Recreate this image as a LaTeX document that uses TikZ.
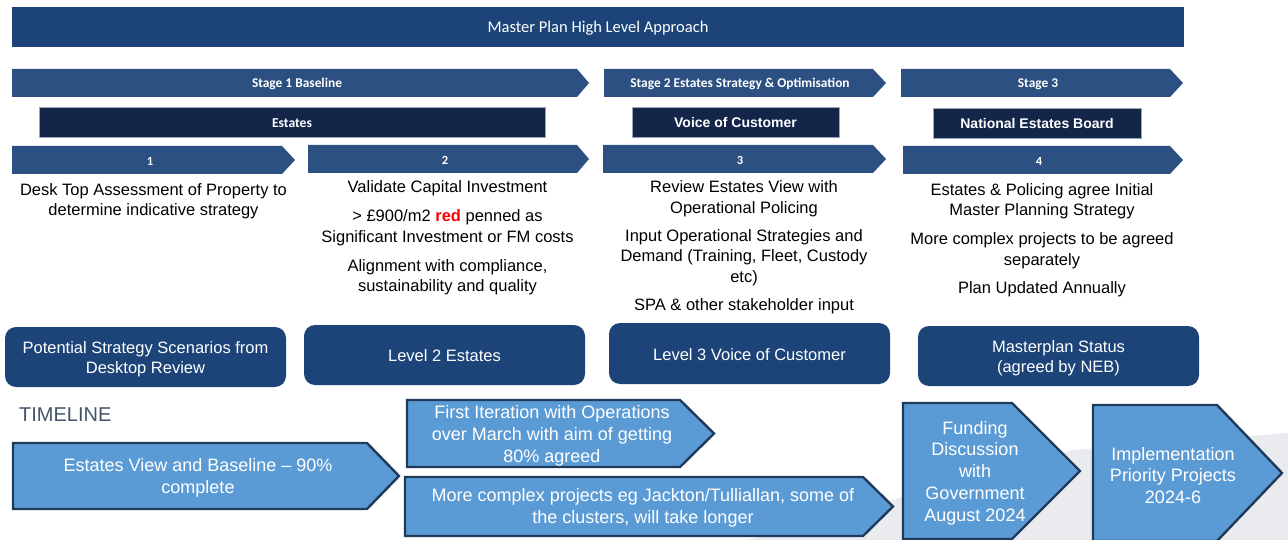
\documentclass[tikz,border=0pt]{standalone}
\usepackage{fontspec}
\setmainfont{Liberation Sans}
\newfontfamily\calib{Carlito}

\definecolor{titleblue}{HTML}{1C4478}
\definecolor{stageblue}{HTML}{2D5082}
\definecolor{navy}{HTML}{13264A}
\definecolor{navyedge}{HTML}{9AA6B8}
\definecolor{levelblue}{HTML}{1C4478}
\definecolor{tlfill}{HTML}{5B9BD5}
\definecolor{tledge}{HTML}{203A5C}
\definecolor{bggrey}{HTML}{E9EBEF}
\definecolor{tlgrey}{HTML}{44546A}
\definecolor{penred}{HTML}{FF0000}

% chevron: style, left x, top y, body end x, tip x, bottom y
\newcommand\chevshape[6]{%
  \path[#1] (#2,#3) -- (#4,#3) -- (#5,{(#3+#6)/2}) -- (#4,#6) -- (#2,#6) -- cycle;}

\tikzset{
  stagearrow/.style={fill=stageblue},
  tlarrow/.style={fill=tlfill, draw=tledge, line width=2.4pt, line join=miter},
  navybox/.style={fill=navy, draw=navyedge, line width=0.7pt},
  levelbox/.style={fill=levelblue, rounded corners=11pt},
  titletext/.style={text=white, font=\calib\fontsize{16.5}{19}\selectfont},
  stagetext/.style={text=white, font=\calib\bfseries\fontsize{13.4}{15}\selectfont},
  numtext/.style={text=white, font=\calib\bfseries\fontsize{12.5}{14}\selectfont},
  navytext/.style={text=white, font=\bfseries\fontsize{14}{16}\selectfont},
  navycalib/.style={text=white, font=\calib\bfseries\fontsize{13.6}{16}\selectfont},
  bodytext/.style={text=black, align=center, inner sep=0pt, font=\fontsize{16.5}{20.5}\selectfont},
  leveltext/.style={text=white, align=center, inner sep=0pt, font=\fontsize{16.5}{20}\selectfont},
  tltext/.style={text=white, align=center, inner sep=0pt, font=\fontsize{18}{21.8}\selectfont},
}

\begin{document}
\begin{tikzpicture}[x=1pt, y=-1pt]
\useasboundingbox (0,0) rectangle (1288,540);
\fill[white] (0,0) rectangle (1288,540);

% faint backdrop behind the last timeline steps
\fill[bggrey] (748,540) -- (1073,450) -- (1288,433) -- (1288,540) -- cycle;

% title bar
\fill[titleblue] (12,7) rectangle (1184,47);
\node[titletext] (title) at (598,28) {Master Plan High Level Approach};

% stage chevrons
\chevshape{stagearrow}{12}{69}{577}{589}{97}
\chevshape{stagearrow}{604}{69}{873}{886}{97}
\chevshape{stagearrow}{901}{69}{1170}{1183}{97}
\node[stagetext] (s1) at (297,84) {Stage 1 Baseline};
\node[stagetext] (s2) at (740,84) {Stage 2 Estates Strategy \& Optimisation};
\node[stagetext] (s3) at (1038,84) {Stage 3};

% owner boxes
\path[navybox] (39,107) rectangle (545,137);
\path[navybox] (632,107) rectangle (839,137);
\path[navybox] (933,108) rectangle (1141,138);
\node[navycalib] (own1) at (292,123) {Estates};
\node[navytext] (own2) at (735.5,122.5) {Voice of Customer};
\node[navytext] (own3) at (1037,123.5) {National Estates Board};

% step chevrons
\chevshape{stagearrow}{12}{146}{282}{295}{174}
\chevshape{stagearrow}{308}{145}{577}{589}{173}
\chevshape{stagearrow}{603}{145}{873}{886}{173}
\chevshape{stagearrow}{903}{146}{1170}{1183}{174}
\node[numtext] (n1) at (150,161) {1};
\node[numtext] (n2) at (445,160) {2};
\node[numtext] (n3) at (740,160) {3};
\node[numtext] (n4) at (1039,161) {4};

% step descriptions
\node[bodytext] (d1) at (153.5,201) {Desk Top Assessment of Property to\\determine indicative strategy};

\node[bodytext] (d2a) at (447.5,188.5) {Validate Capital Investment};
\node[bodytext] (d2b) at (447.5,227.5) {> £900/m2 {\bfseries\color{penred}red} penned as\\Significant Investment or FM costs};
\node[bodytext] (d2c) at (447.5,277) {Alignment with compliance,\\sustainability and quality};

\node[bodytext] (d3a) at (744,198.5) {Review Estates View with\\Operational Policing};
\node[bodytext] (d3b) at (744,257.5) {Input Operational Strategies and\\Demand (Training, Fleet, Custody\\etc)};
\node[bodytext] (d3c) at (744,306.5) {SPA \& other stakeholder input};

\node[bodytext] (d4a) at (1042,201) {Estates \& Policing agree Initial\\Master Planning Strategy};
\node[bodytext] (d4b) at (1042,250.5) {More complex projects to be agreed\\separately};
\node[bodytext] (d4c) at (1042,289.5) {Plan Updated Annually};

% outcome boxes
\path[levelbox] (5,327) rectangle (286,387);
\path[levelbox] (304,325) rectangle (585,385);
\path[levelbox] (609,323) rectangle (890,384);
\path[levelbox] (918,326) rectangle (1199,386);
\node[leveltext] (l1) at (145.5,359) {Potential Strategy Scenarios from\\Desktop Review};
\node[leveltext] (l2) at (444.5,356) {Level 2 Estates};
\node[leveltext] (l3) at (749.5,355) {Level 3 Voice of Customer};
\node[leveltext] (l4) at (1058.5,358) {Masterplan Status\\(agreed by NEB)};

% timeline
\node[anchor=west, inner sep=0pt, text=tlgrey, font=\fontsize{20}{24}\selectfont] (tl) at (19,415) {TIMELINE};

\chevshape{tlarrow}{13}{443}{367}{399}{509}
\chevshape{tlarrow}{407}{400}{680}{714}{467}
\chevshape{tlarrow}{405}{477}{863}{893}{536}
\chevshape{tlarrow}{903}{403}{1012}{1080}{539}
\chevshape{tlarrow}{1093}{405}{1217}{1282}{541}

\node[tltext] (t1) at (198,477.5) {Estates View and Baseline -- 90\%\\complete};
\node[tltext] (t2) at (552,436) {First Iteration with Operations\\over March with aim of getting\\80\% agreed};
\node[tltext] (t3) at (643,508) {More complex projects eg Jackton/Tulliallan, some of\\the clusters, will take longer};
\node[tltext] (t4) at (975,473) {Funding\\Discussion\\with\\Government\\August 2024};
\node[tltext] (t5) at (1173,475.5) {Implementation\\Priority Projects\\2024-6};
\end{tikzpicture}
\end{document}
